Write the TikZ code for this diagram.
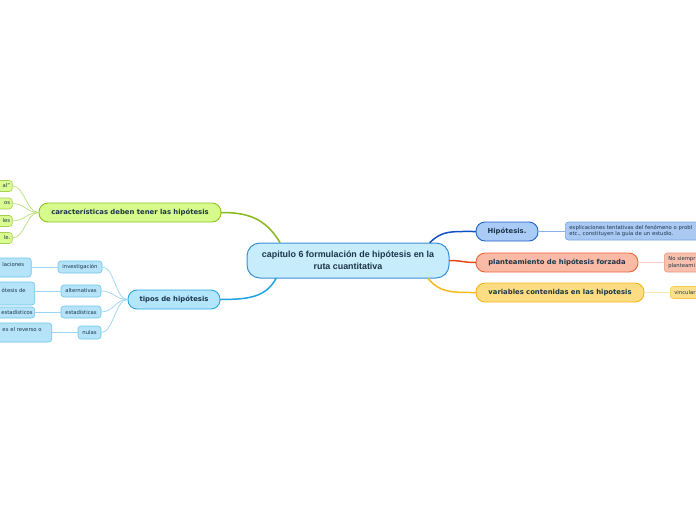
\documentclass[tikz,border=0pt]{standalone}
\usepackage{fontspec}
\setmainfont{DejaVu Sans}
\newfontfamily\ctrfont{Liberation Sans}
\usetikzlibrary{calc}
\definecolor{txt}{HTML}{1C3548}
\definecolor{ctrF}{HTML}{C7ECFB}\definecolor{ctrB}{HTML}{3A8FD0}
\definecolor{gF}{HTML}{D6FB8C}\definecolor{gB}{HTML}{8FC022}
\definecolor{gLF}{HTML}{DAFC92}\definecolor{gLB}{HTML}{A8D050}\definecolor{gL}{HTML}{BADD78}
\definecolor{gM}{HTML}{86B81C}
\definecolor{bF}{HTML}{B3E6FD}\definecolor{bB}{HTML}{29A6DF}
\definecolor{bcF}{HTML}{B5E3F8}\definecolor{bcB}{HTML}{6EC4EC}\definecolor{bL}{HTML}{9AD5F2}
\definecolor{bM}{HTML}{1CA3E2}
\definecolor{hF}{HTML}{A9CBF6}\definecolor{hB}{HTML}{1E62CC}
\definecolor{hLF}{HTML}{A9C9F3}\definecolor{hLB}{HTML}{7BA6E3}\definecolor{hL}{HTML}{8BB0E8}
\definecolor{hM}{HTML}{0F52C4}
\definecolor{rF}{HTML}{F9BAA6}\definecolor{rB}{HTML}{F0643C}
\definecolor{rLF}{HTML}{F9C0AD}\definecolor{rLB}{HTML}{EC9478}\definecolor{rL}{HTML}{F8CFC0}
\definecolor{rM}{HTML}{E8461A}
\definecolor{yF}{HTML}{FDDD83}\definecolor{yB}{HTML}{F4B418}
\definecolor{yLF}{HTML}{FDE08C}\definecolor{yLB}{HTML}{F5C84E}\definecolor{yL}{HTML}{FBE5A8}
\definecolor{yM}{HTML}{F6B81A}
\tikzset{
  ctr/.style={rounded corners=13pt, draw=ctrB, fill=ctrF, line width=1pt, inner sep=0pt,
    minimum width=202pt, minimum height=35pt, align=center, text=txt,
    font=\ctrfont\bfseries\fontsize{8.9}{11.5}\selectfont},
  topic/.style={rounded corners=9pt, draw, line width=0.9pt, inner sep=0pt,
    minimum height=19pt, text=txt, font=\fontsize{6.85}{8}\selectfont\bfseries},
  small/.style={rounded corners=3pt, draw, line width=0.6pt, inner ysep=0pt,
    text=txt, font=\fontsize{5.3}{6.6}\selectfont},
  leafL/.style={small, anchor=east, text width=76pt, align=right},
  leafR/.style={small, anchor=west, text width=170pt, align=left, inner xsep=4pt},
  mainline/.style={line width=1.5pt, line cap=round},
  thinline/.style={line width=0.7pt},
}
\begin{document}
\begin{tikzpicture}[x=1pt,y=-1pt]
\useasboundingbox (0,0) rectangle (696,520);
% central
\node[ctr] (c) at (348,260.5) {capitulo 6 formulación de hipótesis en la\\ruta cuantitativa};
% main topics
\node[topic, fill=gF, draw=gB, minimum width=182pt] (ch) at (130,212.5) {características deben tener las hipótesis};
\node[topic, fill=bF, draw=bB, minimum width=92pt] (tp) at (174,299.5) {tipos de hipótesis};
\node[topic, fill=hF, draw=hB, minimum width=62pt] (hp) at (507,231.5) {Hipótesis.};
\node[topic, fill=rF, draw=rB, minimum width=162pt] (pl) at (557,262.5) {planteamiento de hipótesis forzada};
\node[topic, fill=yF, draw=yB, minimum width=168pt] (va) at (560,292.5) {variables contenidas en las hipotesis};
% green leaves
\node[leafL, fill=gLF, draw=gLB, minimum height=11pt, inner xsep=2pt] (g1) at (12.5,186) {al"};
\node[leafL, fill=gLF, draw=gLB, minimum height=11pt, inner xsep=2pt] (g2) at (12.5,203.5) {os};
\node[leafL, fill=gLF, draw=gLB, minimum height=11pt, inner xsep=2pt] (g3) at (12.5,221) {les};
\node[leafL, fill=gLF, draw=gLB, minimum height=11pt, inner xsep=2pt] (g4) at (12.5,238) {le.};
% blue children
\node[small, fill=bcF, draw=bcB, inner xsep=0pt, minimum width=44pt, minimum height=12pt] (i1) at (80,267) {investigación};
\node[small, fill=bcF, draw=bcB, inner xsep=0pt, minimum width=40pt, minimum height=12pt] (i2) at (81,291) {alternativas};
\node[small, fill=bcF, draw=bcB, inner xsep=0pt, minimum width=40pt, minimum height=12pt] (i3) at (81,312) {estadísticas};
\node[small, fill=bcF, draw=bcB, inner xsep=0pt, minimum width=23pt, minimum height=13pt] (i4) at (89.5,332.5) {nulas};
% blue leaves
\node[leafL, fill=bcF, draw=bcB, minimum height=19pt, inner xsep=7pt] (l1) at (31.5,267.5) {laciones\\\mbox{}};
\node[leafL, fill=bcF, draw=bcB, minimum height=23pt, inner xsep=9pt] (l2) at (35,293.5) {ótesis de\\\mbox{}};
\node[leafL, fill=bcF, draw=bcB, minimum height=11pt, inner xsep=2pt] (l3) at (35,312.5) {estadísticos};
\node[leafL, fill=bcF, draw=bcB, minimum height=19pt, inner xsep=10pt] (l4) at (52,332.5) {es el reverso o\\\mbox{}};
% right leaves
\node[leafR, fill=hLF, draw=hLB, minimum height=18pt] (h1) at (565,231) {explicaciones tentativas del fenómeno o probl\\etc., constituyen la guía de un estudio.};
\node[leafR, fill=rLF, draw=rLB, minimum height=19pt] (p1) at (664,262.5) {No siempr\\planteami};
\node[leafR, fill=yLF, draw=yLB, minimum height=12pt] (v1) at (670,292.5) {vincular};
% main connectors
\draw[mainline, gM] ($(c.north)+(-68,0)$) .. controls +(-15,-25) and +(25,0) .. (ch.east);
\draw[mainline, bM] ($(c.south)+(-72,0)$) .. controls +(-10,18) and +(30,0) .. (tp.east);
\draw[mainline, hM] ($(c.north)+(82,0)$) .. controls +(12,-12) and +(-25,0) .. (hp.west);
\draw[mainline, rM] (c.east) .. controls +(12,0) and +(-12,0) .. (pl.west);
\draw[mainline, yM] ($(c.south)+(80,0)$) .. controls +(12,14) and +(-25,0) .. (va.west);
% green leaf connectors
\foreach \n in {g1,g2,g3,g4}
  \draw[thinline, gL] (ch.west) .. controls +(-12,0) and +(12,0) .. (\n.east);
% blue connectors
\foreach \n in {i1,i2,i3,i4}
  \draw[thinline, bL] (tp.west) .. controls +(-12,0) and +(12,0) .. (\n.east);
\draw[thinline, bL] (i1.west) -- (i1.west -| l1.east);
\draw[thinline, bL] (i2.west) -- (i2.west -| l2.east);
\draw[thinline, bL] (i3.west) -- (i3.west -| l3.east);
\draw[thinline, bL] (i4.west) -- (i4.west -| l4.east);
% right leaf connectors
\draw[thinline, hL] (hp.east) -- (hp.east -| h1.west);
\draw[thinline, rL] (pl.east) -- (pl.east -| p1.west);
\draw[thinline, yL] (va.east) -- (va.east -| v1.west);
\end{tikzpicture}
\end{document}
